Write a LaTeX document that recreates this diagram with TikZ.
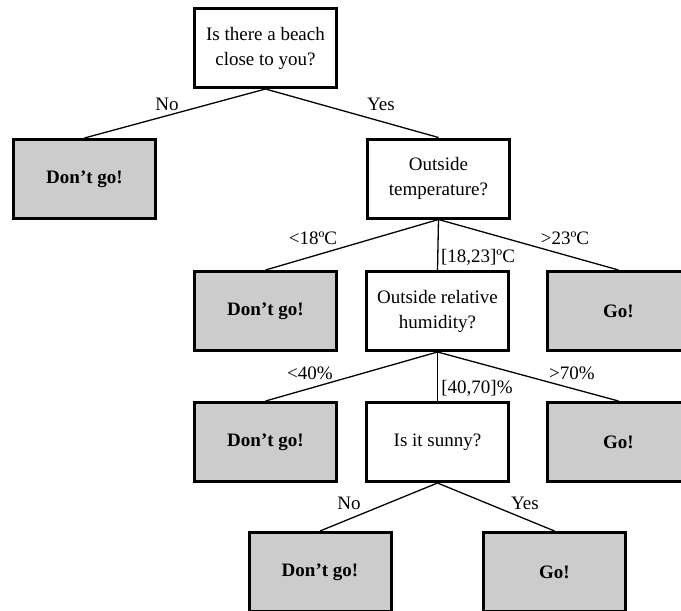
\documentclass[tikz,border=0pt]{standalone}
\usepackage{fontspec}
\setmainfont{Liberation Serif}
\definecolor{leafgray}{HTML}{CCCCCC}
\tikzstyle{every node}=[font=\fontsize{9.5pt}{12.5pt}\selectfont]
\tikzstyle{question}=[rectangle, draw, line width=1.5pt, minimum width=71pt, minimum height=39.5pt, align=center, inner sep=2pt]
\tikzstyle{answer}=[question, fill=leafgray, font=\fontsize{9.5pt}{12.5pt}\selectfont\bfseries]
\tikzstyle{branch}=[line width=0.65pt]

\begin{document}
\begin{tikzpicture}[x=0.5pt, y=-0.5pt]
\useasboundingbox (0,0) rectangle (681,611);
\clip (0,0) rectangle (681,611);
\draw (265.5,48) node[question] (Beach) {Is there a beach\\close to you?};
\draw (84.5,179) node[answer] (NoGoA) {Don’t go!};
\draw (438.5,178.5) node[question] (Temp) {Outside\\temperature?};
\draw (265.5,311) node[answer] (NoGoB) {Don’t go!};
\draw (437.5,311) node[question] (Humid) {Outside relative\\humidity?};
\draw (618.5,311) node[answer] (GoB) {Go!};
\draw (265.5,442) node[answer] (NoGoC) {Don’t go!};
\draw (437.5,442) node[question] (Sunny) {Is it sunny?};
\draw (618.5,442) node[answer] (GoC) {Go!};
\draw (320,572) node[answer] (NoGoD) {Don’t go!};
\draw (554.5,572) node[answer] (GoD) {Go!};

\draw[branch] (Beach.south) -- (NoGoA.north);
\draw[branch] (Beach.south) -- (Temp.north);
\draw[branch] (Temp.south) -- (NoGoB.north);
\draw[branch] (Temp.south) -- (Humid.north);
\draw[branch] (Temp.south) -- (GoB.north);
\draw[branch] (Humid.south) -- (NoGoC.north);
\draw[branch] (Humid.south) -- (Sunny.north);
\draw[branch] (Humid.south) -- (GoC.north);
\draw[branch] (Sunny.south) -- (NoGoD.north);
\draw[branch] (Sunny.south) -- (GoD.north);

\draw (167,104) node (BeachNo) {No};
\draw (381,104) node (BeachYes) {Yes};
\draw (313,238) node (TempLow) {<18ºC};
\draw (478,257) node (TempMid) {[18,23]ºC};
\draw (565,238) node (TempHigh) {>23ºC};
\draw (310,373) node (HumidLow) {<40\%};
\draw (477,388) node (HumidMid) {[40,70]\%};
\draw (572,373) node (HumidHigh) {>70\%};
\draw (349,503) node (SunnyNo) {No};
\draw (525,503) node (SunnyYes) {Yes};
\end{tikzpicture}
\end{document}
